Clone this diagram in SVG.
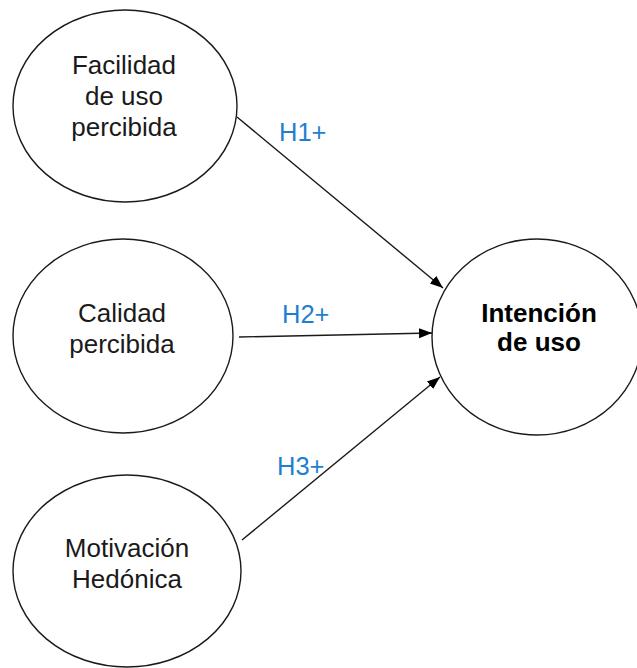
<svg xmlns="http://www.w3.org/2000/svg" width="637" height="668" viewBox="0 0 637 668">
<style>
.node ellipse{fill:#fff;stroke:#1a1a1a;stroke-width:1.4}
.t{font-family:"Liberation Sans",Arial,sans-serif;font-size:26px;fill:#1a1a1a;text-anchor:middle}
.b{font-weight:bold;fill:#000}
.lbl{font-family:"Liberation Sans",Arial,sans-serif;font-size:25.5px;fill:#1f7fcf}
.edge{stroke:#1a1a1a;stroke-width:1.4;fill:none}
</style>
<defs>
<marker id="arr" markerUnits="userSpaceOnUse" markerWidth="14" markerHeight="12" refX="13" refY="5" orient="auto" viewBox="0 0 14 10">
<path d="M0,0 L13,5 L0,10 Z" fill="#000"/>
</marker>
</defs>
<rect width="637" height="668" fill="#fff"/>
<g id="n1" class="node">
<ellipse cx="125" cy="106" rx="112" ry="96"/>
<text class="t" x="124" y="74">Facilidad</text>
<text class="t" x="124" y="105">de uso</text>
<text class="t" x="124" y="136">percibida</text>
</g>
<g id="n2" class="node">
<ellipse cx="123" cy="336" rx="110" ry="97"/>
<text class="t" x="122" y="322">Calidad</text>
<text class="t" x="122" y="353">percibida</text>
</g>
<g id="n3" class="node">
<ellipse cx="127" cy="571" rx="114" ry="96"/>
<text class="t" x="127" y="557">Motivación</text>
<text class="t" x="127" y="588">Hedónica</text>
</g>
<g id="n4" class="node">
<ellipse cx="537" cy="337" rx="105" ry="98"/>
<text class="t b" x="539" y="322">Intención</text>
<text class="t b" x="539" y="351">de uso</text>
</g>
<g id="edges">
<line class="edge" x1="237" y1="117" x2="443" y2="288" marker-end="url(#arr)"/>
<line class="edge" x1="239" y1="337" x2="432" y2="333" marker-end="url(#arr)"/>
<line class="edge" x1="242" y1="540" x2="440" y2="377" marker-end="url(#arr)"/>
<text class="lbl" x="279" y="141">H1+</text>
<text class="lbl" x="282" y="323">H2+</text>
<text class="lbl" x="277" y="475">H3+</text>
</g>
</svg>
